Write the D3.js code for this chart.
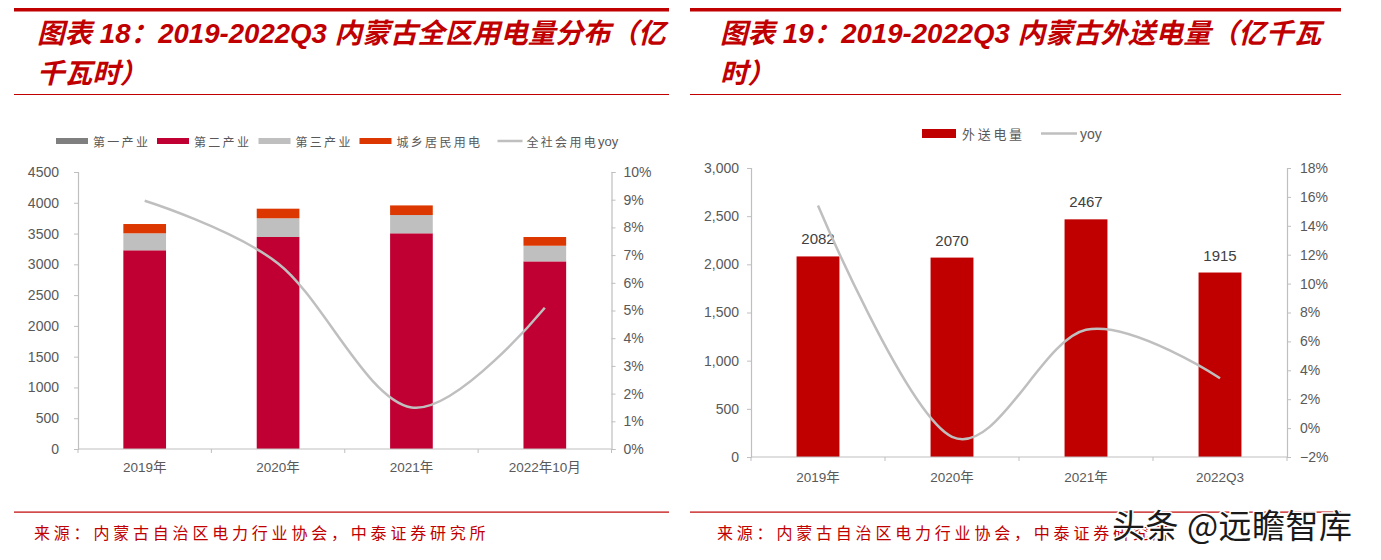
<!DOCTYPE html>
<html><head><meta charset="utf-8">
<script src="https://cdn.jsdelivr.net/npm/d3@7"></script>
<style>
html,body{margin:0;padding:0;background:#fff;}
svg{display:block;}
</style></head>
<body>
<svg id="c" width="1381" height="560"></svg>
<script>
// ---------- data ----------
const cats1 = ["2019年", "2020年", "2021年", "2022年10月"];
const secondary = [3228, 3444, 3504, 3048];   // 第二产业
const tertiary = [276, 304, 297, 254];        // 第三产业
const residential = [151, 156, 156, 142];     // 城乡居民用电
const yoyTotal = [0.0896, 0.067, 0.015, 0.051]; // 全社会用电yoy
const legend1 = ["第一产业", "第二产业", "第三产业", "城乡居民用电", "全社会用电"];
const ticksL1 = [0, 500, 1000, 1500, 2000, 2500, 3000, 3500, 4000, 4500];
const ticksR1 = [0, 0.01, 0.02, 0.03, 0.04, 0.05, 0.06, 0.07, 0.08, 0.09, 0.10];

const cats2 = ["2019年", "2020年", "2021年", "2022Q3"];
const outbound = [2082, 2070, 2467, 1915];     // 外送电量
const yoyOut = [0.154, -0.006, 0.068, 0.0345];
const legend2 = ["外送电量", "yoy"];
const ticksL2 = [0, 500, 1000, 1500, 2000, 2500, 3000];
const ticksR2 = [-0.02, 0, 0.02, 0.04, 0.06, 0.08, 0.10, 0.12, 0.14, 0.16, 0.18];

const title1 = ["图表 18：2019-2022Q3 内蒙古全区用电量分布（亿", "千瓦时）"];
const title2 = ["图表 19：2019-2022Q3 内蒙古外送电量（亿千瓦", "时）"];
const source = "来源：内蒙古自治区电力行业协会，中泰证券研究所";

// ---------- styles ----------
const RED = "#c00000";
const TICKFONT = "'Liberation Sans Narrow','Arial Narrow','Liberation Sans',sans-serif";
const CJK = "'Noto Sans CJK SC',sans-serif";
const AXIS = "#bfbfbf";
const TXT = "#595959";
const svg = d3.select("#c");
svg.append("rect").attr("width", 1381).attr("height", 560).attr("fill", "#fff");

function header(x0, x1, tx, lines) {
  svg.append("rect").attr("x", x0).attr("y", 8).attr("width", x1 - x0).attr("height", 3.5).attr("fill", RED);
  svg.append("rect").attr("x", x0).attr("y", 94).attr("width", x1 - x0).attr("height", 1).attr("fill", RED);
  lines.forEach((t, i) => {
    svg.append("text").attr("x", tx).attr("y", 43 + i * 40)
      .attr("font-family", "'Liberation Sans','Noto Sans CJK SC',sans-serif")
      .attr("font-weight", "bold").attr("font-style", "italic")
      .attr("font-size", 27.6).attr("fill", RED).text(t);
  });
  svg.append("rect").attr("x", x0).attr("y", 511.5).attr("width", x1 - x0).attr("height", 1.2).attr("fill", RED);
  svg.append("text").attr("x", tx - 3).attr("y", 539).attr("font-family", CJK)
    .attr("font-size", 16).attr("letter-spacing", 3.8).attr("fill", RED).text(source);
}
header(14, 669, 37, title1);
header(690, 1341, 720, title2);

function yAxis(scale, x, ticks, fmt, side, pad) {
  const g = svg.append("g").attr("transform", `translate(${x},0)`);
  const ax = (side === "left" ? d3.axisLeft(scale) : d3.axisRight(scale))
    .tickValues(ticks).tickFormat(fmt).tickSize(4).tickPadding(pad);
  g.call(ax);
  g.select(".domain").attr("stroke", AXIS).attr("stroke-width", 1.2);
  g.selectAll(".tick line").attr("stroke", AXIS);
  g.selectAll(".tick text").attr("fill", TXT).attr("font-family", TICKFONT).attr("font-size", 14);
  return g;
}
function xAxis(scale, y, x0, x1, labY) {
  const g = svg.append("g");
  g.append("line").attr("x1", x0).attr("x2", x1).attr("y1", y).attr("y2", y).attr("stroke", AXIS).attr("stroke-width", 1.2);
  const bounds = scale.domain().map(d => scale(d)).concat([scale(scale.domain()[scale.domain().length - 1]) + scale.step()]);
  g.selectAll(".tk").data(bounds).join("line").attr("x1", d => d).attr("x2", d => d)
    .attr("y1", y).attr("y2", y + 4).attr("stroke", AXIS);
  g.selectAll(".lab").data(scale.domain()).join("text")
    .attr("x", d => scale(d) + scale.bandwidth() / 2).attr("y", labY)
    .attr("text-anchor", "middle").attr("dominant-baseline", "central")
    .attr("fill", TXT).attr("font-family", TICKFONT + ",'Noto Sans CJK SC'").attr("font-size", 13.5).text(d => d);
}
const lineGen = (xs, ys) => d3.line().x((d, i) => xs(i)).y(d => ys(d)).curve(d3.curveCatmullRom.alpha(0));

// ---------- chart 1 ----------
{
  const x = d3.scaleBand().domain(cats1).range([78, 611.5]).padding(0);
  const y = d3.scaleLinear().domain([0, 4500]).range([449, 172]);
  const yr = d3.scaleLinear().domain([0, 0.10]).range([449, 172]);
  const bw = x.bandwidth() * 0.32;
  const rows = cats1.map((c, i) => ({ c, secondary: secondary[i], tertiary: tertiary[i], residential: residential[i] }));
  const keys = ["secondary", "tertiary", "residential"];
  const cols = { secondary: "#c00032", tertiary: "#bfbfbf", residential: "#dc3700" };
  const stack = d3.stack().keys(keys)(rows);
  svg.append("g").selectAll("g").data(stack).join("g").attr("fill", s => cols[s.key])
    .selectAll("rect").data(s => s).join("rect")
    .attr("x", d => x(d.data.c) + x.bandwidth() / 2 - bw / 2).attr("width", bw)
    .attr("y", d => y(d[1])).attr("height", d => y(d[0]) - y(d[1]));
  yAxis(y, 78, ticksL1, d3.format("d"), "left", 15);
  yAxis(yr, 611.5, ticksR1, d3.format(".0%"), "right", 8);
  xAxis(x, 449, 78, 611.5, 467);
  svg.append("path").datum(yoyTotal).attr("fill", "none").attr("stroke", "#bfbfbf").attr("stroke-width", 2.5)
    .attr("d", lineGen(i => x(cats1[i]) + x.bandwidth() / 2, yr)(yoyTotal));
  // legend
  const lg = svg.append("g").attr("font-family", CJK).attr("font-size", 12).attr("fill", TXT);
  const sw = [56, 157, 258.5, 359.5, 497.5];
  const swc = ["#7f7f7f", "#c00032", "#bfbfbf", "#dc3700", "#bfbfbf"];
  legend1.forEach((t, i) => {
    if (i < 4) lg.append("rect").attr("x", sw[i]).attr("y", 138).attr("width", 32).attr("height", 6).attr("fill", swc[i]);
    else lg.append("line").attr("x1", sw[i]).attr("x2", sw[i] + 25).attr("y1", 141).attr("y2", 141).attr("stroke", swc[i]).attr("stroke-width", 2.5);
    const tx = lg.append("text").attr("x", sw[i] + (i < 4 ? 37 : 29)).attr("y", 141).attr("dominant-baseline", "central");
    tx.append("tspan").attr("letter-spacing", 2.3).text(t);
    if (i === 4) tx.append("tspan").attr("font-family", TICKFONT).attr("font-size", 13).text("yoy");
  });
}

// ---------- chart 2 ----------
{
  const x = d3.scaleBand().domain(cats2).range([751, 1287]).padding(0);
  const y = d3.scaleLinear().domain([0, 3000]).range([457, 168]);
  const yr = d3.scaleLinear().domain([-0.02, 0.18]).range([457, 168]);
  const bw = x.bandwidth() * 0.32;
  const cx = c => x(c) + x.bandwidth() / 2;
  svg.append("g").selectAll("rect").data(outbound).join("rect").attr("fill", RED)
    .attr("x", (d, i) => cx(cats2[i]) - bw / 2).attr("width", bw)
    .attr("y", d => y(d)).attr("height", d => y(0) - y(d));
  svg.append("g").selectAll("text").data(outbound).join("text")
    .attr("x", (d, i) => cx(cats2[i])).attr("y", d => y(d) - 12).attr("text-anchor", "middle")
    .attr("font-family", TICKFONT).attr("font-size", 15).attr("fill", "#404040").text(d => d);
  yAxis(y, 751, ticksL2, d3.format(","), "left", 8);
  yAxis(yr, 1287, ticksR2, d3.format(".0%"), "right", 9);
  xAxis(x, 457, 751, 1287, 477);
  svg.append("path").attr("fill", "none").attr("stroke", "#bfbfbf").attr("stroke-width", 2.5)
    .attr("d", lineGen(i => cx(cats2[i]), yr)(yoyOut));
  const lg = svg.append("g").attr("font-family", CJK).attr("font-size", 13).attr("fill", TXT);
  lg.append("rect").attr("x", 922).attr("y", 129).attr("width", 34).attr("height", 9).attr("fill", RED);
  lg.append("text").attr("x", 962).attr("y", 133.5).attr("dominant-baseline", "central").attr("letter-spacing", 2.7).text(legend2[0]);
  lg.append("line").attr("x1", 1041).attr("x2", 1077).attr("y1", 133.5).attr("y2", 133.5).attr("stroke", "#bfbfbf").attr("stroke-width", 2.5);
  lg.append("text").attr("x", 1080).attr("y", 133.5).attr("dominant-baseline", "central").attr("font-family", TICKFONT).attr("font-size", 14).text(legend2[1]);
}

// watermark
svg.append("text").attr("x", 1112).attr("y", 538).attr("font-family", CJK).attr("font-size", 33)
  .attr("letter-spacing", 0.5)
  .attr("fill", "#1a1a1a").attr("stroke", "#fff").attr("stroke-width", 3).attr("paint-order", "stroke")
  .text("头条 @远瞻智库");
</script>
</body></html>
